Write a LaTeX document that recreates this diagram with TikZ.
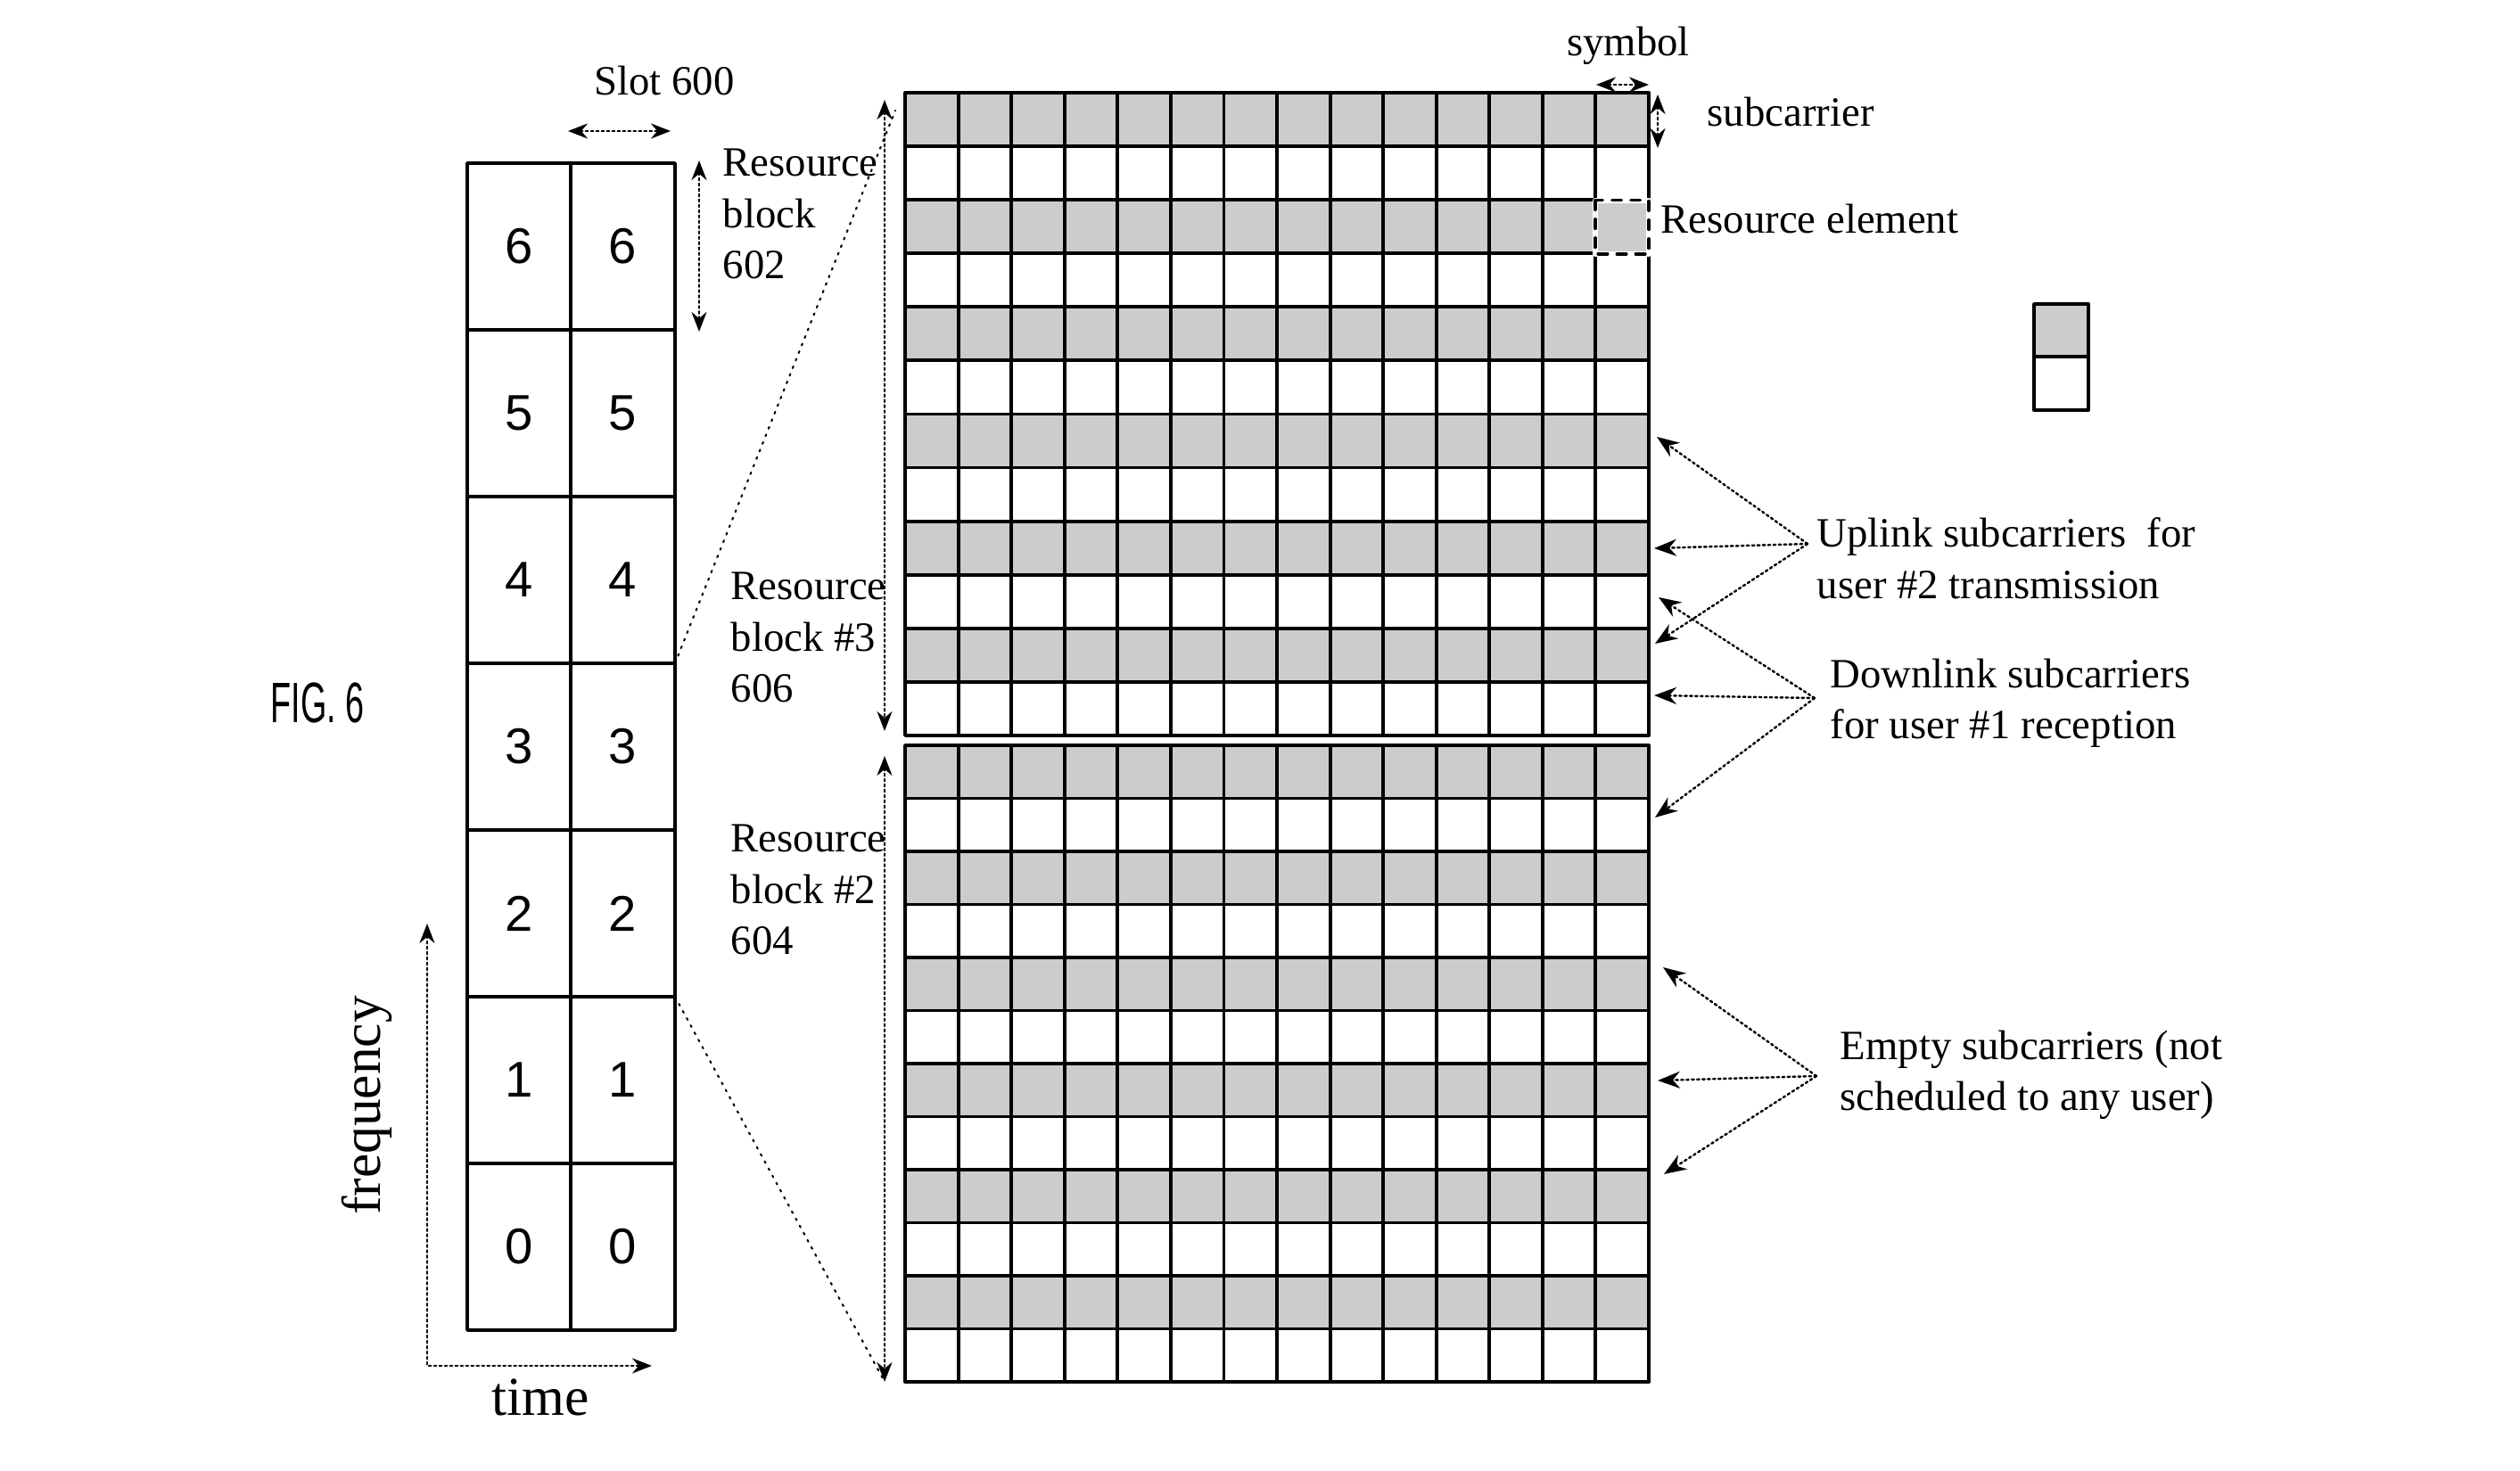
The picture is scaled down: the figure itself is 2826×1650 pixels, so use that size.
\documentclass[tikz,border=0pt]{standalone}
\usepackage{graphicx}
\usepackage{fontspec}
\setmainfont{Liberation Serif}
\newfontfamily\numfont{Liberation Sans}
\usetikzlibrary{arrows.meta}

\begin{document}
\begin{tikzpicture}[x=.1mm,y=-.1mm,line cap=round,line join=round,
  cell/.style={draw,line width=1pt},
  gridline/.style={line width=1.1pt},
  shade/.style={fill=black!20},
  lbl/.style={font=\fontsize{13.3}{16.45}\selectfont,inner sep=0pt,align=left},
  axis/.style={font=\fontsize{17.5}{21}\selectfont,inner sep=0pt},
  digit/.style={font=\numfont\fontsize{16}{19}\selectfont,inner sep=0pt},
  ptr/.style={densely dotted,line width=.7pt,-{Stealth[length=2.5mm,width=1.9mm]}},
  twoway/.style={densely dotted,line width=.7pt,
    {Stealth[length=2.2mm,width=1.7mm]}-{Stealth[length=2.2mm,width=1.7mm]}},
  zoomline/.style={dotted,line width=.6pt}]

\useasboundingbox (0,0) rectangle (2826,1650);

\node[font=\numfont\fontsize{18.2}{20}\selectfont,inner sep=0pt] (fig) at (356,788)
  {\scalebox{.59}[1]{FIG. 6}};

% Slot 600: seven resource blocks in two columns, block 0 at the bottom.
\foreach \r in {0,...,6}
{
  \pgfmathsetmacro{\yb}{1492-\r*187}
  \pgfmathsetmacro{\yt}{\yb-187}
  \draw[cell] (524,\yb) rectangle (640,\yt);
  \draw[cell] (640,\yb) rectangle (757,\yt);
  \node[digit] (rbl\r) at (582,{\yb-93.5}) {\r};
  \node[digit] (rbr\r) at (698,{\yb-93.5}) {\r};
}
\node[lbl,anchor=base] (slot) at (745,107) {Slot 600};
\coordinate (slotL) at (637,147);
\coordinate (slotR) at (752,147);
\draw[twoway] (slotL) -- (slotR);
\coordinate (rbtop) at (784,180);
\coordinate (rbbot) at (784,372);
\draw[twoway] (rbtop) -- (rbbot);
\node[lbl,anchor=north west] (rb602) at (810,166) {Resource\\block\\602};

% time and frequency axes
\coordinate (ftip) at (479,1036);
\coordinate (ttip) at (731,1532);
\draw[twoway] (ftip) |- (ttip);
\node[axis,rotate=90] (freq) at (411,1240) {frequency};
\node[axis,anchor=base] (time) at (606,1587) {time};

% blocks #2 and #3 blown up on the right
\coordinate (rb3top) at (757,744);
\coordinate (rb2bot) at (757,1118);
\coordinate (gridtop) at (1004,124);
\coordinate (gridbot) at (991,1548);
\draw[zoomline] (rb3top) -- (gridtop);
\draw[zoomline] (rb2bot) -- (gridbot);
\coordinate (b3a) at (992,112);
\coordinate (b3b) at (992,820);
\coordinate (b2a) at (992,848);
\coordinate (b2b) at (992,1550);
\draw[twoway] (b3a) -- (b3b);
\draw[twoway] (b2a) -- (b2b);
\node[lbl,anchor=north west] (rb606) at (819,641) {Resource\\block \#3\\606};
\node[lbl,anchor=north west] (rb604) at (819,924) {Resource\\block \#2\\604};

% 12 subcarriers x 14 symbols per block, every other subcarrier shaded
\foreach \yo/\hh in {104/60.08,836/59.5}
{
  \foreach \r in {0,2,...,10}
  {
    \pgfmathsetmacro{\ya}{\yo+\r*\hh}
    \pgfmathsetmacro{\yc}{\ya+\hh}
    \fill[shade] (1015,\ya) rectangle (1849,\yc);
  }
  \foreach \r in {1,...,11}
    \draw[gridline] (1015,{\yo+\r*\hh}) -- (1849,{\yo+\r*\hh});
  \foreach \c in {1,...,13}
    \draw[gridline] ({1015+\c*59.57},\yo) -- ({1015+\c*59.57},{\yo+12*\hh});
  \draw[gridline] (1015,\yo) rectangle (1849,{\yo+12*\hh});
}

% one resource element and its size
\draw[white,line width=1.6pt] (1789,224.7) rectangle (1849,284.8);
\draw[dashed,line width=1pt] (1789,224.7) rectangle (1849,284.8);
\coordinate (symL) at (1790,95);
\coordinate (symR) at (1849,95);
\draw[twoway] (symL) -- (symR);
\node[lbl,anchor=base] (symbol) at (1826,63) {symbol};
\coordinate (scT) at (1859,106);
\coordinate (scB) at (1859,166);
\draw[twoway] (scT) -- (scB);
\node[lbl,anchor=base west] (subc) at (1914,142) {subcarrier};
\node[lbl,anchor=base west] (re) at (1862,262) {Resource element};

% legend pair
\draw[gridline,shade] (2281,341) rectangle (2342,400);
\draw[gridline] (2281,400) rectangle (2342,460);

% who uses which subcarriers
\node[lbl,anchor=north west] (ul) at (2037,580)
  {Uplink subcarriers\ \ for\\user \#2 transmission};
\coordinate (ulx) at (2027,610);
\coordinate (ul1) at (1858,490);
\coordinate (ul2) at (1855,615);
\coordinate (ul3) at (1856,722);
\foreach \t in {ul1,ul2,ul3}
  \draw[ptr] (ulx) -- (\t);

\node[lbl,anchor=north west] (dl) at (2052,738)
  {Downlink subcarriers\\for user \#1 reception};
\coordinate (dlx) at (2035,783);
\coordinate (dl1) at (1860,670);
\coordinate (dl2) at (1855,780);
\coordinate (dl3) at (1856,917);
\foreach \t in {dl1,dl2,dl3}
  \draw[ptr] (dlx) -- (\t);

\node[lbl,anchor=north west] (em) at (2063,1155)
  {Empty subcarriers (not\\scheduled to any user)};
\coordinate (emx) at (2037,1207);
\coordinate (em1) at (1865,1085);
\coordinate (em2) at (1859,1212);
\coordinate (em3) at (1866,1317);
\foreach \t in {em1,em2,em3}
  \draw[ptr] (emx) -- (\t);
\end{tikzpicture}
\end{document}
